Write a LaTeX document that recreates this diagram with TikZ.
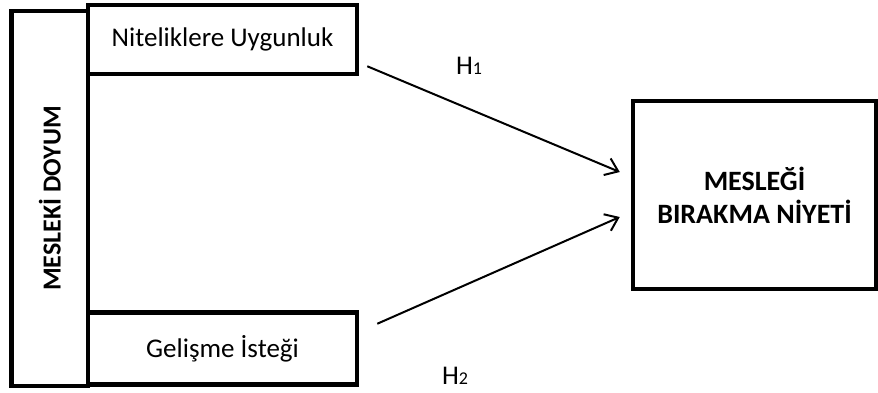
\documentclass[tikz,border=0pt]{standalone}
\usepackage{fontspec}
\setmainfont{Carlito}
\usetikzlibrary{arrows.meta}

\begin{document}
\begin{tikzpicture}[
  x=0.5pt, y=-0.5pt,
  font=\fontsize{13.5}{16}\selectfont,
  box/.style={draw=black, rectangle, line width=2.25pt, inner sep=2pt, align=center},
  arrow/.style={-{Straight Barb[length=6pt, width=9pt]}, line width=1pt},
  hyp/.style={inner sep=0pt},
]
  \useasboundingbox (0,0) rectangle (878,392);

  \node[box, rotate=90, minimum width=187.5pt, minimum height=38.25pt,
        font=\fontsize{13}{15.6}\selectfont\bfseries] (doyum) at (49.75,198.5) {MESLEKİ DOYUM};
  \node[box, minimum width=134.5pt, minimum height=34.5pt] (nitelik) at (222.5,39.5) {Niteliklere Uygunluk};
  \node[box, minimum width=134.5pt, minimum height=36pt] (gelisme) at (222.5,348.5) {Gelişme İsteği};
  \node[box, minimum width=121.5pt, minimum height=94pt,
        font=\fontsize{14}{16.5}\selectfont\bfseries] (niyet) at (754.5,195) {MESLEĞİ\\BIRAKMA NİYETİ};

  \draw[arrow] ([xshift=4pt, yshift=5pt]nitelik.south east) -- ([xshift=-5.5pt, yshift=11.5pt]niyet.west);
  \draw[arrow] ([xshift=9pt, yshift=-6.75pt]gelisme.north east) -- ([xshift=-5.5pt, yshift=-11pt]niyet.west);

  \node[hyp] (h1) at (469,66) {H{\fontsize{9}{10}\selectfont 1}};
  \node[hyp] (h2) at (455,376) {H{\fontsize{9}{10}\selectfont 2}};
\end{tikzpicture}
\end{document}
